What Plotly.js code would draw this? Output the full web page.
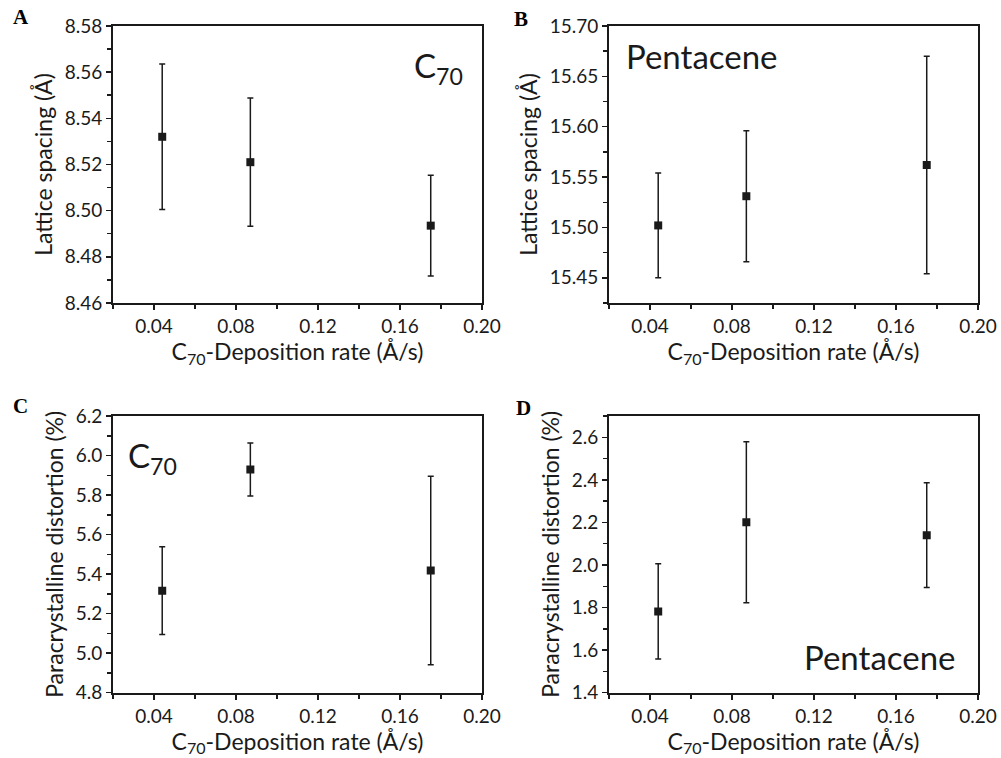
<!DOCTYPE html>
<html>
<head>
<meta charset="utf-8">
<script src="https://cdn.plot.ly/plotly-3.0.1.min.js"></script>
<style>
  html, body { margin: 0; padding: 0; background: #fff; }
  #chart { width: 1001px; height: 758px; }
</style>
</head>
<body>
<div id="chart"></div>
<script>
// Deposition rates (Å/s), shared by all four panels
const rates = [0.044, 0.087, 0.175];

// A: C70 lattice spacing (Å)
const c70Spacing = [8.532, 8.521, 8.4935];
const c70SpacingErr = [0.0315, 0.0278, 0.0218];

// B: pentacene lattice spacing (Å)
const penSpacing = [15.502, 15.531, 15.562];
const penSpacingErr = [0.052, 0.065, 0.108];

// C: C70 paracrystalline distortion (%)
const c70Distortion = [5.316, 5.929, 5.418];
const c70DistortionErr = [0.222, 0.134, 0.477];

// D: pentacene paracrystalline distortion (%)
const penDistortion = [1.782, 2.201, 2.140];
const penDistortionErr = [0.224, 0.378, 0.246];

const xTitle = 'C<sub>70</sub>-Deposition rate (Å/s)';
const spacingTitle = 'Lattice spacing (Å)';
const distortionTitle = 'Paracrystalline distortion (%)';

const ink = '#1a1a1a';
const tickFont = { family: 'Lato, "Open Sans", sans-serif', size: 19, color: ink };
const titleFont = { family: 'Lato, "Open Sans", sans-serif', size: 23, color: ink };

function series(y, err, xa, ya) {
  return {
    type: 'scatter', mode: 'markers',
    x: rates, y: y,
    xaxis: xa, yaxis: ya,
    marker: { symbol: 'square', size: 8, color: ink },
    error_y: { type: 'data', array: err, visible: true, color: ink, thickness: 1.5, width: 3 },
    showlegend: false, hoverinfo: 'x+y'
  };
}

const data = [
  series(c70Spacing, c70SpacingErr, 'x', 'y'),
  series(penSpacing, penSpacingErr, 'x2', 'y2'),
  series(c70Distortion, c70DistortionErr, 'x3', 'y3'),
  series(penDistortion, penDistortionErr, 'x4', 'y4')
];

function xAxis(domain, anchor) {
  return {
    domain: domain, anchor: anchor,
    range: [0.02, 0.20], tick0: 0.04, dtick: 0.04, tickformat: '.2f',
    ticks: 'outside', ticklen: 5, tickwidth: 1.5, tickcolor: ink,
    minor: { dtick: 0.02, tick0: 0.02, ticks: 'outside', ticklen: 4, tickwidth: 1.5, tickcolor: ink, showgrid: false },
    showline: true, linewidth: 2, linecolor: ink, mirror: true,
    showgrid: false, zeroline: false, tickfont: tickFont,
    title: { text: xTitle, font: titleFont, standoff: 8 }
  };
}

function yAxis(domain, anchor, range, tick0, dtick, minorDtick, fmt, title) {
  return {
    domain: domain, anchor: anchor,
    range: range, tick0: tick0, dtick: dtick, tickformat: fmt,
    ticks: 'outside', ticklen: 5, tickwidth: 1.5, tickcolor: ink,
    minor: { tick0: tick0, dtick: minorDtick, ticks: 'outside', ticklen: 4, tickwidth: 1.5, tickcolor: ink, showgrid: false },
    showline: true, linewidth: 2, linecolor: ink, mirror: true,
    showgrid: false, zeroline: false, tickfont: tickFont,
    title: { text: title, font: titleFont, standoff: 6 }
  };
}

const colLeft = [0.1129, 0.4815];
const colRight = [0.6084, 0.9770];
const rowTop = [0.6003, 0.9657];
const rowBottom = [0.0861, 0.4512];

const annFont = { family: 'Lato, "Open Sans", sans-serif', size: 33, color: ink };
const letterFont = { family: '"Liberation Serif", serif', size: 21, color: '#000' };

const layout = {
  width: 1001, height: 758,
  margin: { l: 0, r: 0, t: 0, b: 0 },
  paper_bgcolor: '#fff', plot_bgcolor: '#fff',
  xaxis: xAxis(colLeft, 'y'),
  yaxis: yAxis(rowTop, 'x', [8.46, 8.58], 8.46, 0.02, 0.01, '.2f', spacingTitle),
  xaxis2: xAxis(colRight, 'y2'),
  yaxis2: yAxis(rowTop, 'x2', [15.425, 15.70], 15.45, 0.05, 0.025, '.2f', spacingTitle),
  xaxis3: xAxis(colLeft, 'y3'),
  yaxis3: yAxis(rowBottom, 'x3', [4.8, 6.2], 4.8, 0.2, 0.1, '.1f', distortionTitle),
  xaxis4: xAxis(colRight, 'y4'),
  yaxis4: yAxis(rowBottom, 'x4', [1.4, 2.7], 1.4, 0.2, 0.1, '.1f', distortionTitle),
  annotations: [
    { text: '<b>A</b>', xref: 'paper', yref: 'paper', x: 11 / 1001, y: 1 - 17 / 758, xanchor: 'left', yanchor: 'middle', showarrow: false, font: letterFont },
    { text: '<b>B</b>', xref: 'paper', yref: 'paper', x: 512 / 1001, y: 1 - 19 / 758, xanchor: 'left', yanchor: 'middle', showarrow: false, font: letterFont },
    { text: '<b>C</b>', xref: 'paper', yref: 'paper', x: 11 / 1001, y: 1 - 406 / 758, xanchor: 'left', yanchor: 'middle', showarrow: false, font: letterFont },
    { text: '<b>D</b>', xref: 'paper', yref: 'paper', x: 514 / 1001, y: 1 - 408 / 758, xanchor: 'left', yanchor: 'middle', showarrow: false, font: letterFont },
    { text: 'C<sub>70</sub>', xref: 'x domain', yref: 'y domain', x: 0.955, y: 0.94, xanchor: 'right', yanchor: 'top', showarrow: false, font: annFont },
    { text: 'Pentacene', xref: 'x2 domain', yref: 'y2 domain', x: 0.04, y: 0.97, xanchor: 'left', yanchor: 'top', showarrow: false, font: annFont },
    { text: 'C<sub>70</sub>', xref: 'x3 domain', yref: 'y3 domain', x: 0.035, y: 0.94, xanchor: 'left', yanchor: 'top', showarrow: false, font: annFont },
    { text: 'Pentacene', xref: 'x4 domain', yref: 'y4 domain', x: 0.945, y: 0.05, xanchor: 'right', yanchor: 'bottom', showarrow: false, font: annFont }
  ]
};

Plotly.newPlot('chart', data, layout, { displayModeBar: false, staticPlot: true });
</script>
</body>
</html>
